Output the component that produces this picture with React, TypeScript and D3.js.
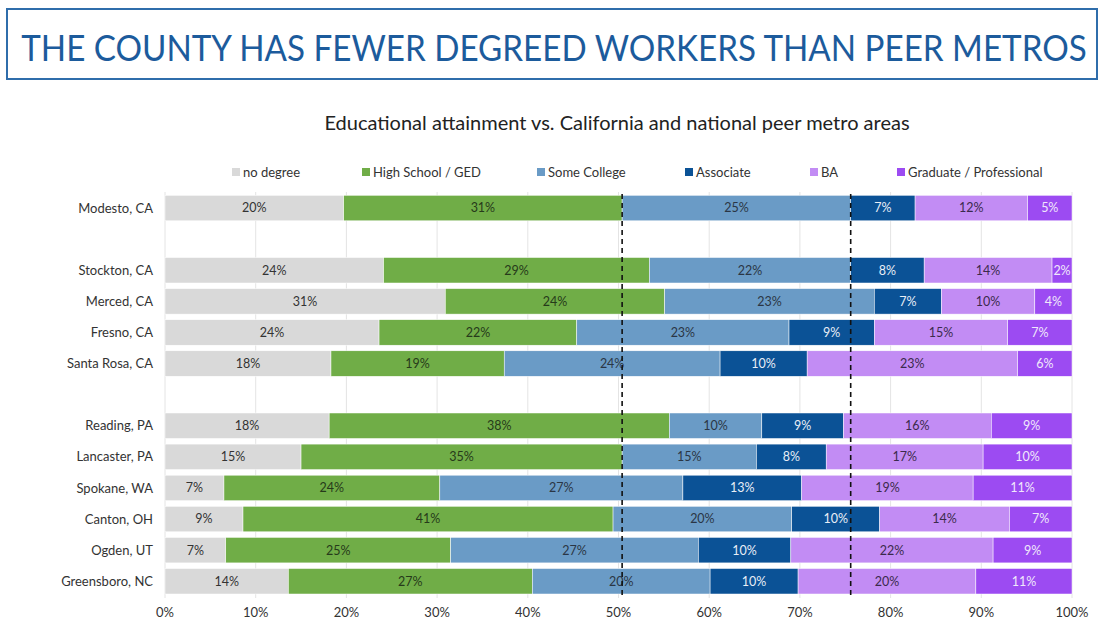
import React, { useLayoutEffect, useRef, useState } from "react";
import * as d3 from "d3";

// metro areas, top to bottom; empty slots separate the groups
const metros = [
  "Modesto, CA",
  "Stockton, CA",
  "Merced, CA",
  "Fresno, CA",
  "Santa Rosa, CA",
  "Reading, PA",
  "Lancaster, PA",
  "Spokane, WA",
  "Canton, OH",
  "Ogden, UT",
  "Greensboro, NC",
];
const rowOrder = [
  "Modesto, CA",
  "gap-ca",
  "Stockton, CA",
  "Merced, CA",
  "Fresno, CA",
  "Santa Rosa, CA",
  "gap-us",
  "Reading, PA",
  "Lancaster, PA",
  "Spokane, WA",
  "Canton, OH",
  "Ogden, UT",
  "Greensboro, NC",
];

const levels = ["no degree", "High School / GED", "Some College", "Associate", "BA", "Graduate / Professional"];

// shares in percent, one value per metro
const noDegree = [19.7, 24.1, 30.9, 23.6, 18.3, 18.1, 15.0, 6.5, 8.6, 6.7, 13.6];
const highSchool = [30.7, 29.3, 24.2, 21.8, 19.1, 37.5, 35.4, 23.8, 40.8, 24.8, 26.9];
const someCollege = [25.2, 22.2, 23.1, 23.4, 23.8, 10.2, 14.8, 26.8, 19.7, 27.3, 19.6];
const associate = [7.1, 8.1, 7.4, 9.4, 9.6, 9.0, 7.7, 13.1, 9.7, 10.2, 9.7];
const ba = [12.4, 14.1, 10.3, 14.7, 23.2, 16.3, 17.3, 18.9, 14.3, 22.3, 19.6];
const graduate = [4.9, 2.2, 4.1, 7.1, 6.0, 8.9, 9.8, 10.9, 6.9, 8.7, 10.6];

const xTicks = [0, 10, 20, 30, 40, 50, 60, 70, 80, 90, 100];

const colors = ["#d9d9d9", "#70ad47", "#6a9bc6", "#0b5296", "#c28cf4", "#9c4bf2"];
const labelColors = ["#333333", "#263a1a", "#2a3645", "#e8eef6", "#3b2a4c", "#f0e8fb"];

const title = "THE COUNTY HAS FEWER DEGREED WORKERS THAN PEER METROS";
const subtitle = "Educational attainment vs. California and national peer metro areas";

const font = "Lato, 'Open Sans', sans-serif";

export default function App() {
  const width = 1104;
  const height = 620;
  const titleRef = useRef<SVGTextElement | null>(null);
  const [titleScale, setTitleScale] = useState(0.86);

  // squeeze the title horizontally so it fills the box like the condensed original
  useLayoutEffect(() => {
    if (!titleRef.current) return;
    const w = titleRef.current.getComputedTextLength();
    if (w > 0) setTitleScale(1066 / w);
  }, []);

  const series = [noDegree, highSchool, someCollege, associate, ba, graduate];
  const rows = metros.map((m, i) => {
    const r: Record<string, any> = { metro: m };
    levels.forEach((l, j) => (r[l] = series[j][i]));
    return r;
  });
  const stacked = d3.stack<any>().keys(levels)(rows);

  const x = d3.scaleLinear().domain([0, 100]).range([165, 1072]);
  const y = d3
    .scaleBand()
    .domain(rowOrder)
    .range([192.5, 596.8])
    .paddingInner(0.18)
    .paddingOuter(0.09);

  // dashed reference lines at Modesto's boundaries
  const refLines = [stacked[1][0][1], stacked[2][0][1]];

  const legendX = [232, 362, 537, 685, 810, 897];

  return (
    <svg
      width={width}
      height={height}
      style={{ position: "absolute", left: 0, top: 0, background: "#fff" }}
      fontFamily={font}
    >
      <rect x={0} y={0} width={width} height={height} fill="#fff" />
      {/* title box */}
      <rect x={7} y={9} width={1090} height={70} fill="#fff" stroke="#2f6dab" strokeWidth={2} />
      <g transform={`translate(554,61) scale(${titleScale},1)`}>
        <text ref={titleRef} x={0} y={0} fontSize={37} fill="#1c5b9c" textAnchor="middle" fontWeight={400}>
          {title}
        </text>
      </g>
      <text x={617} y={130} fontSize={20} fill="#222" textAnchor="middle">
        {subtitle}
      </text>

      {/* legend */}
      {levels.map((l, i) => (
        <g key={l} transform={`translate(${legendX[i]},172)`}>
          <rect x={0} y={-4} width={8} height={8} fill={colors[i]} />
          <text x={11} y={0} dy="0.35em" fontSize={13} fill="#333">
            {l}
          </text>
        </g>
      ))}

      {/* gridlines */}
      {xTicks.map((t) => (
        <line key={t} x1={x(t)} x2={x(t)} y1={192} y2={598} stroke="#e4e4e4" strokeWidth={1} />
      ))}

      {/* bars */}
      {stacked.map((s, i) => (
        <g key={s.key}>
          {s.map((d, j) => {
            const y0 = y(metros[j])!;
            const w = x(d[1]) - x(d[0]);
            return (
              <g key={metros[j]}>
                <rect
                  x={x(d[0])}
                  y={y0}
                  width={w}
                  height={y.bandwidth()}
                  fill={colors[i]}
                  stroke="#fff"
                  strokeWidth={0.5}
                />
                <text
                  x={(x(d[0]) + x(d[1])) / 2}
                  y={y0 + y.bandwidth() / 2}
                  dy="0.35em"
                  textAnchor="middle"
                  fontSize={12.5}
                  fill={labelColors[i]}
                >
                  {Math.round(d[1] - d[0]) + "%"}
                </text>
              </g>
            );
          })}
        </g>
      ))}

      {/* reference lines */}
      {refLines.map((v, i) => (
        <line
          key={i}
          x1={x(v)}
          x2={x(v)}
          y1={194}
          y2={598}
          stroke="#111"
          strokeWidth={1.6}
          strokeDasharray="5,4"
        />
      ))}

      {/* category labels */}
      {metros.map((m) => (
        <text
          key={m}
          x={153}
          y={y(m)! + y.bandwidth() / 2}
          dy="0.35em"
          textAnchor="end"
          fontSize={13}
          fill="#333"
        >
          {m}
        </text>
      ))}

      {/* x axis labels */}
      {xTicks.map((t) => (
        <text key={t} x={x(t)} y={612} dy="0.35em" textAnchor="middle" fontSize={13} fill="#333">
          {t + "%"}
        </text>
      ))}
    </svg>
  );
}
